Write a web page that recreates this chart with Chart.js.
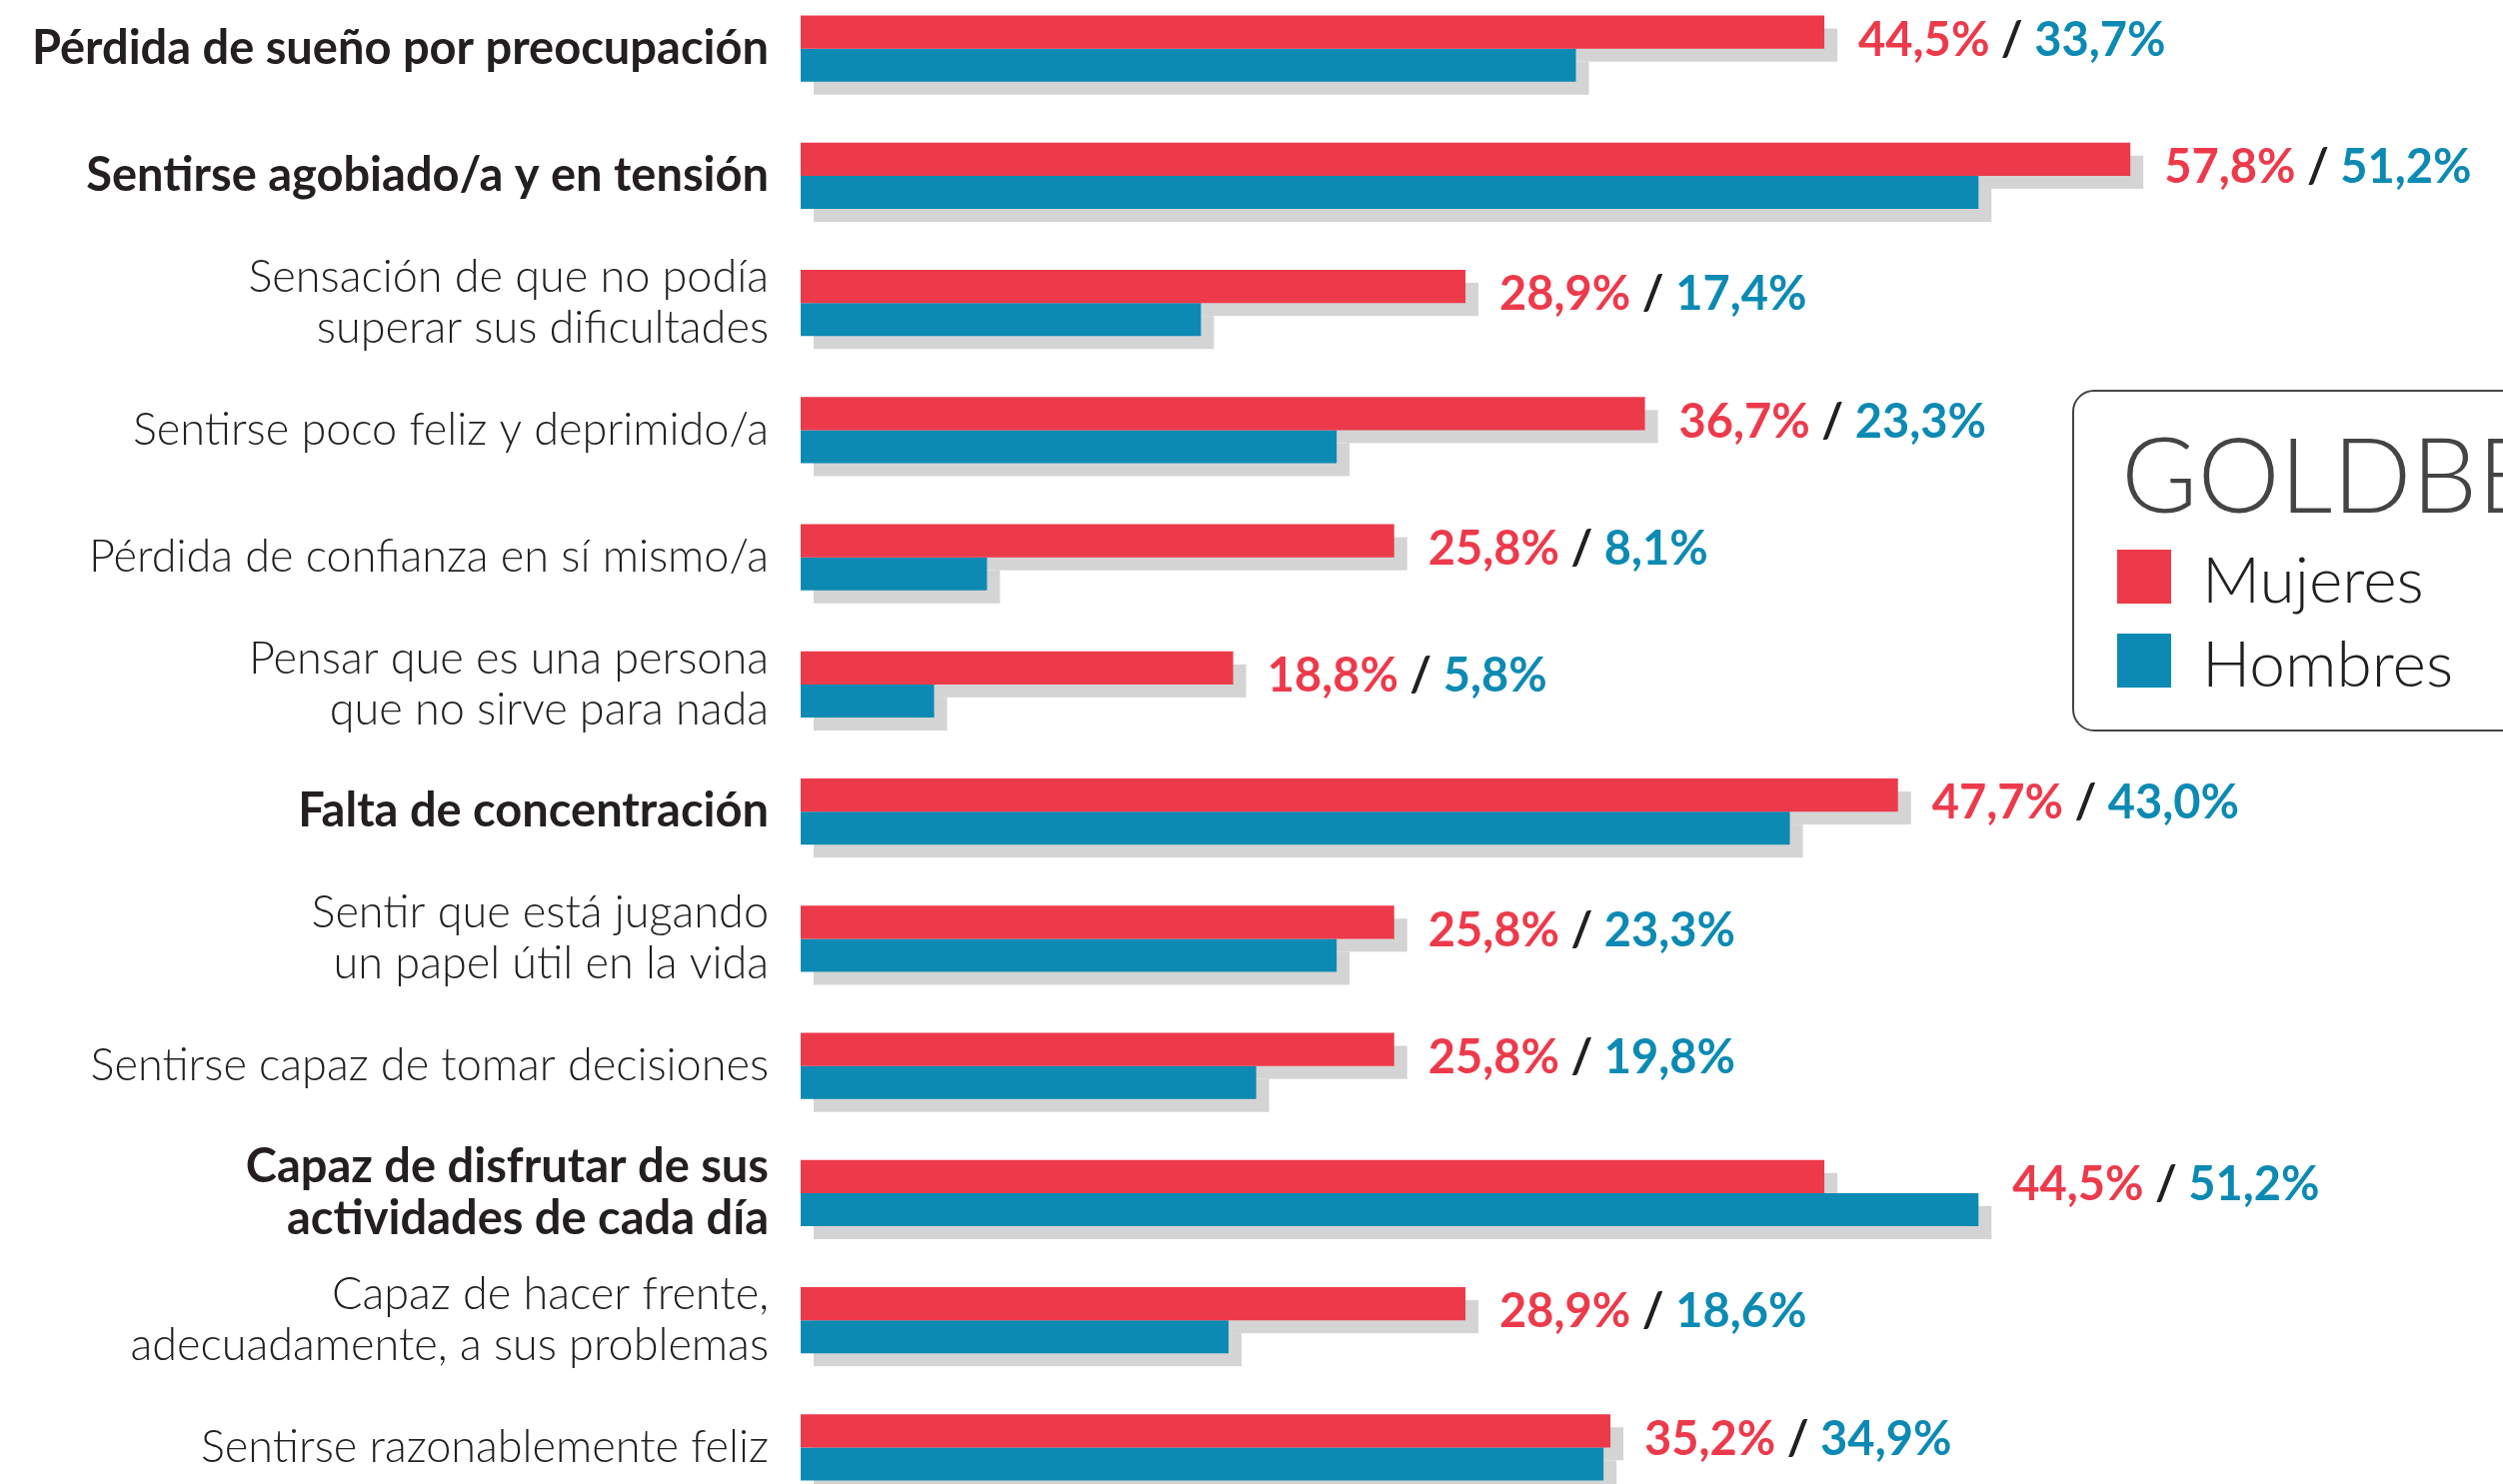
<!DOCTYPE html>
<html lang="es">
<head>
<meta charset="utf-8">
<title>Goldberg: mujeres y hombres</title>
<script src="https://cdn.jsdelivr.net/npm/chart.js@4.4.1/dist/chart.umd.min.js"></script>
<style>
  html, body { margin: 0; padding: 0; background: #fff; overflow: hidden; }
  body { width: 2504px; height: 1485px; position: relative; }
  #grafico { position: absolute; left: 0; top: -15px; }
  #leyenda {
    position: absolute; left: 2073px; top: 390px; width: 620px; height: 342px;
    border: 2px solid #444; border-radius: 22px; box-sizing: border-box; background: #fff;
  }
  #leyenda .titulo {
    position: absolute; left: 47px; top: 29px; font: 300 104px/1 Lato, sans-serif; color: #444;
    white-space: nowrap;
  }
  #items { position: absolute; left: 43px; top: 155px; }
  .item { display: flex; align-items: flex-start; height: 84px; }
  .cuadro { width: 54px; height: 54px; margin-top: 3px; margin-right: 31px; }
  .texto { font: 300 64px/1 Lato, sans-serif; color: #231f20; }
</style>
</head>
<body>
<canvas id="grafico" width="2504" height="1527"></canvas>
<div id="leyenda">
  <div class="titulo" id="tituloLeyenda"></div>
  <div id="items"></div>
</div>
<script>
// Datos (porcentajes)
const categorias = [
  'Pérdida de sueño por preocupación',
  'Sentirse agobiado/a y en tensión',
  ['Sensación de que no podía', 'superar sus dificultades'],
  'Sentirse poco feliz y deprimido/a',
  'Pérdida de confianza en sí mismo/a',
  ['Pensar que es una persona', 'que no sirve para nada'],
  'Falta de concentración',
  ['Sentir que está jugando', 'un papel útil en la vida'],
  'Sentirse capaz de tomar decisiones',
  ['Capaz de disfrutar de sus', 'actividades de cada día'],
  ['Capaz de hacer frente,', 'adecuadamente, a sus problemas'],
  'Sentirse razonablemente feliz'
];
const mujeres = [44.5, 57.8, 28.9, 36.7, 25.8, 18.8, 47.7, 25.8, 25.8, 44.5, 28.9, 35.2];
const hombres = [33.7, 51.2, 17.4, 23.3, 8.1, 5.8, 43.0, 23.3, 19.8, 51.2, 18.6, 34.9];
const series = ['Mujeres', 'Hombres'];
const destacadas = [0, 1, 6, 9]; // etiquetas en negrita
const tituloLeyenda = 'GOLDBERG';

const ROJO = '#ed3a4b';
const AZUL = '#0c8ab3';
const SOMBRA = '#d4d4d4';
const OSCURO = '#231f20';

const fmt = v => v.toFixed(1).replace('.', ',') + '%';

// sombra gris desplazada detrás de cada barra
const sombraBarras = {
  id: 'sombraBarras',
  beforeDatasetsDraw(chart) {
    const ctx = chart.ctx;
    ctx.save();
    ctx.fillStyle = SOMBRA;
    chart.data.datasets.forEach((ds, d) => {
      chart.getDatasetMeta(d).data.forEach(bar => {
        const p = bar.getProps(['x', 'y', 'base', 'height'], true);
        const izq = Math.min(p.x, p.base);
        ctx.fillRect(izq + 13, p.y - p.height / 2 + 13, Math.abs(p.x - p.base), p.height);
      });
    });
    ctx.restore();
  }
};

// "44,5% / 33,7%" a la derecha de cada par de barras
const etiquetasValor = {
  id: 'etiquetasValor',
  afterDatasetsDraw(chart) {
    const ctx = chart.ctx;
    const m0 = chart.getDatasetMeta(0), m1 = chart.getDatasetMeta(1);
    ctx.save();
    ctx.font = '700 47px Lato, sans-serif';
    ctx.textBaseline = 'middle';
    ctx.textAlign = 'left';
    m0.data.forEach((barra, i) => {
      const otra = m1.data[i];
      let x = Math.max(barra.x, otra.x) + 13 + 21;
      const y = (barra.y + barra.height / 2) - 8;
      const partes = [[fmt(mujeres[i]), ROJO], [' / ', OSCURO], [fmt(hombres[i]), AZUL]];
      partes.forEach(([t, c]) => {
        ctx.fillStyle = c;
        ctx.fillText(t, x, y);
        x += ctx.measureText(t).width;
      });
    });
    ctx.restore();
  }
};

const chart = new Chart(document.getElementById('grafico'), {
  type: 'bar',
  data: {
    labels: categorias,
    datasets: [
      { label: series[0], data: mujeres, backgroundColor: ROJO },
      { label: series[1], data: hombres, backgroundColor: AZUL }
    ]
  },
  options: {
    indexAxis: 'y',
    responsive: false,
    animation: false,
    layout: { padding: 0 },
    datasets: { bar: { categoryPercentage: 0.52, barPercentage: 1, borderWidth: 0 } },
    plugins: { legend: { display: false }, tooltip: { enabled: false } },
    scales: {
      x: { display: false, min: 0, max: 74 },
      y: {
        grid: { display: false },
        border: { display: false },
        afterFit: s => { s.width = 801; s.paddingTop = 0; s.paddingBottom = 0; },
        ticks: {
          autoSkip: false,
          padding: 24,
          color: OSCURO,
          font: c => destacadas.includes(c.index)
            ? { family: 'Lato, sans-serif', size: 47, weight: 700, lineHeight: 1.1 }
            : { family: 'Lato, sans-serif', size: 45, weight: 300, lineHeight: 1.13 }
        }
      }
    }
  },
  plugins: [sombraBarras, etiquetasValor]
});

// leyenda en HTML construida a partir de los datasets
document.getElementById('tituloLeyenda').textContent = tituloLeyenda;
const items = document.getElementById('items');
chart.data.datasets.forEach(ds => {
  const fila = document.createElement('div');
  fila.className = 'item';
  fila.innerHTML = `<div class="cuadro" style="background:${ds.backgroundColor}"></div><div class="texto">${ds.label}</div>`;
  items.appendChild(fila);
});
</script>
</body>
</html>
